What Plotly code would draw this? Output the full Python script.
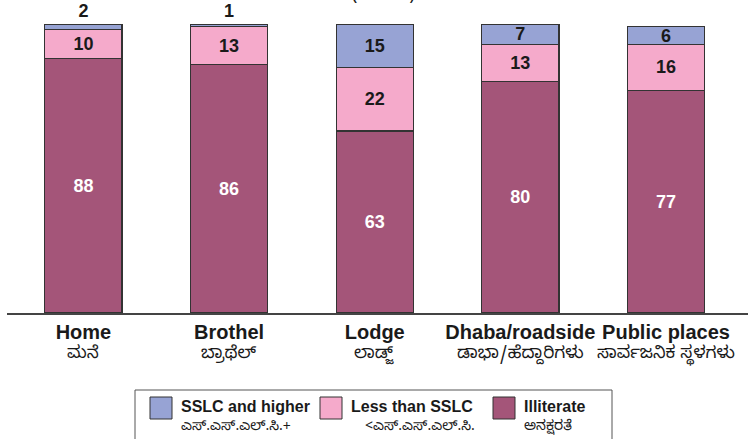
import plotly.graph_objects as go

places = ["Home", "Brothel", "Lodge", "Dhaba/roadside", "Public places"]
places_kn = ["ಮನೆ", "ಬ್ರಾಥೆಲ್", "ಲಾಡ್ಜ್", "ಡಾಭಾ/ಹೆದ್ದಾರಿಗಳು", "ಸಾರ್ವಜನಿಕ ಸ್ಥಳಗಳು"]

illiterate = [88, 86, 63, 80, 77]
less_sslc = [10, 13, 22, 13, 16]
sslc_higher = [2, 1, 15, 7, 6]

series_en = ["SSLC and higher", "Less than SSLC", "Illiterate"]
series_kn = ["ಎಸ್.ಎಸ್.ಎಲ್.ಸಿ.+", "<ಎಸ್.ಎಸ್.ಎಲ್.ಸಿ.", "ಅನಕ್ಷರತೆ"]
colors = ["#97a3d4", "#f5aacb", "#a45579"]

W, H = 755, 439
L, R, T, B = 7, 7, 24, 126
pw, ph = W - L - R, H - T - B


def px(x):
    return (x - L) / pw


def py(y):
    return (H - B - y) / ph


kn_font = "Noto Sans Kannada, Noto Sans, sans-serif"
num_font = dict(size=18, family="Liberation Sans")
fig = go.Figure()

line = dict(color="#333333", width=1.2)
common = dict(width=0.53, marker_line=line, textangle=0, constraintext="none",
              cliponaxis=False, showlegend=False, texttemplate="<b>%{text}</b>",
              insidetextanchor="middle")

fig.add_trace(go.Bar(x=places, y=illiterate, marker_color=colors[2], text=illiterate,
                     textposition="inside", insidetextfont=dict(color="white", **num_font),
                     **common))
fig.add_trace(go.Bar(x=places, y=less_sslc, marker_color=colors[1], text=less_sslc,
                     textposition="inside", insidetextfont=dict(color="#1a1a1a", **num_font),
                     **common))
fig.add_trace(go.Bar(x=places, y=sslc_higher, marker_color=colors[0], text=sslc_higher,
                     textposition=["outside" if v < 3 else "inside" for v in sslc_higher],
                     insidetextfont=dict(color="#1a1a1a", **num_font),
                     outsidetextfont=dict(color="#1a1a1a", **num_font),
                     **common))

fig.update_layout(
    width=W, height=H,
    margin=dict(l=L, r=R, t=T, b=B, autoexpand=False),
    barmode="stack",
    paper_bgcolor="white", plot_bgcolor="white",
    font=dict(family="Liberation Sans, Arial", color="#1a1a1a"),
    xaxis=dict(range=[-0.525, 4.563], showline=True, linecolor="#444444", linewidth=1.5,
               tickmode="array", tickvals=places, ticktext=[f"<b>{p}</b>" for p in places],
               ticks="", tickfont=dict(size=20), showgrid=False, automargin=False),
    yaxis=dict(range=[0, 100], visible=False, showgrid=False, automargin=False),
)

# Kannada labels under each category
for p, k in zip(places, places_kn):
    fig.add_annotation(x=p, y=py(355), xref="x", yref="paper", yanchor="middle",
                       text=k, showarrow=False,
                       font=dict(size=17, family=kn_font, color="#1a1a1a"))

# partially visible heading at top
fig.add_annotation(x=px(383), y=py(8), xref="paper", yref="paper", yanchor="bottom",
                   text="(ಶೇಕಡಾ)", showarrow=False,
                   font=dict(size=18, family=kn_font, color="#1a1a1a"))

# legend box
fig.add_shape(type="rect", xref="paper", yref="paper",
              x0=px(135), x1=px(612), y0=py(445), y1=py(390),
              line=dict(color="#555555", width=1), fillcolor="white")
sw_x = [150, 320, 493]
for i in range(3):
    fig.add_shape(type="rect", xref="paper", yref="paper",
                  x0=px(sw_x[i]), x1=px(sw_x[i] + 22), y0=py(419), y1=py(397),
                  line=dict(color="#333333", width=1), fillcolor=colors[i])
    fig.add_annotation(x=px(sw_x[i] + 29), y=py(406), xref="paper", yref="paper",
                       xanchor="left", yanchor="middle", showarrow=False,
                       text=f"<b>{series_en[i]}</b>", font=dict(size=16))
    fig.add_annotation(x=px(sw_x[i] + 29 + (14 if i == 1 else 0)), y=py(428), xref="paper",
                       yref="paper", xanchor="left", yanchor="middle", showarrow=False,
                       text=series_kn[i], font=dict(size=14, family=kn_font))

fig.write_html("out.html", config={"displayModeBar": False},
               post_script="document.body.style.margin='0';")
